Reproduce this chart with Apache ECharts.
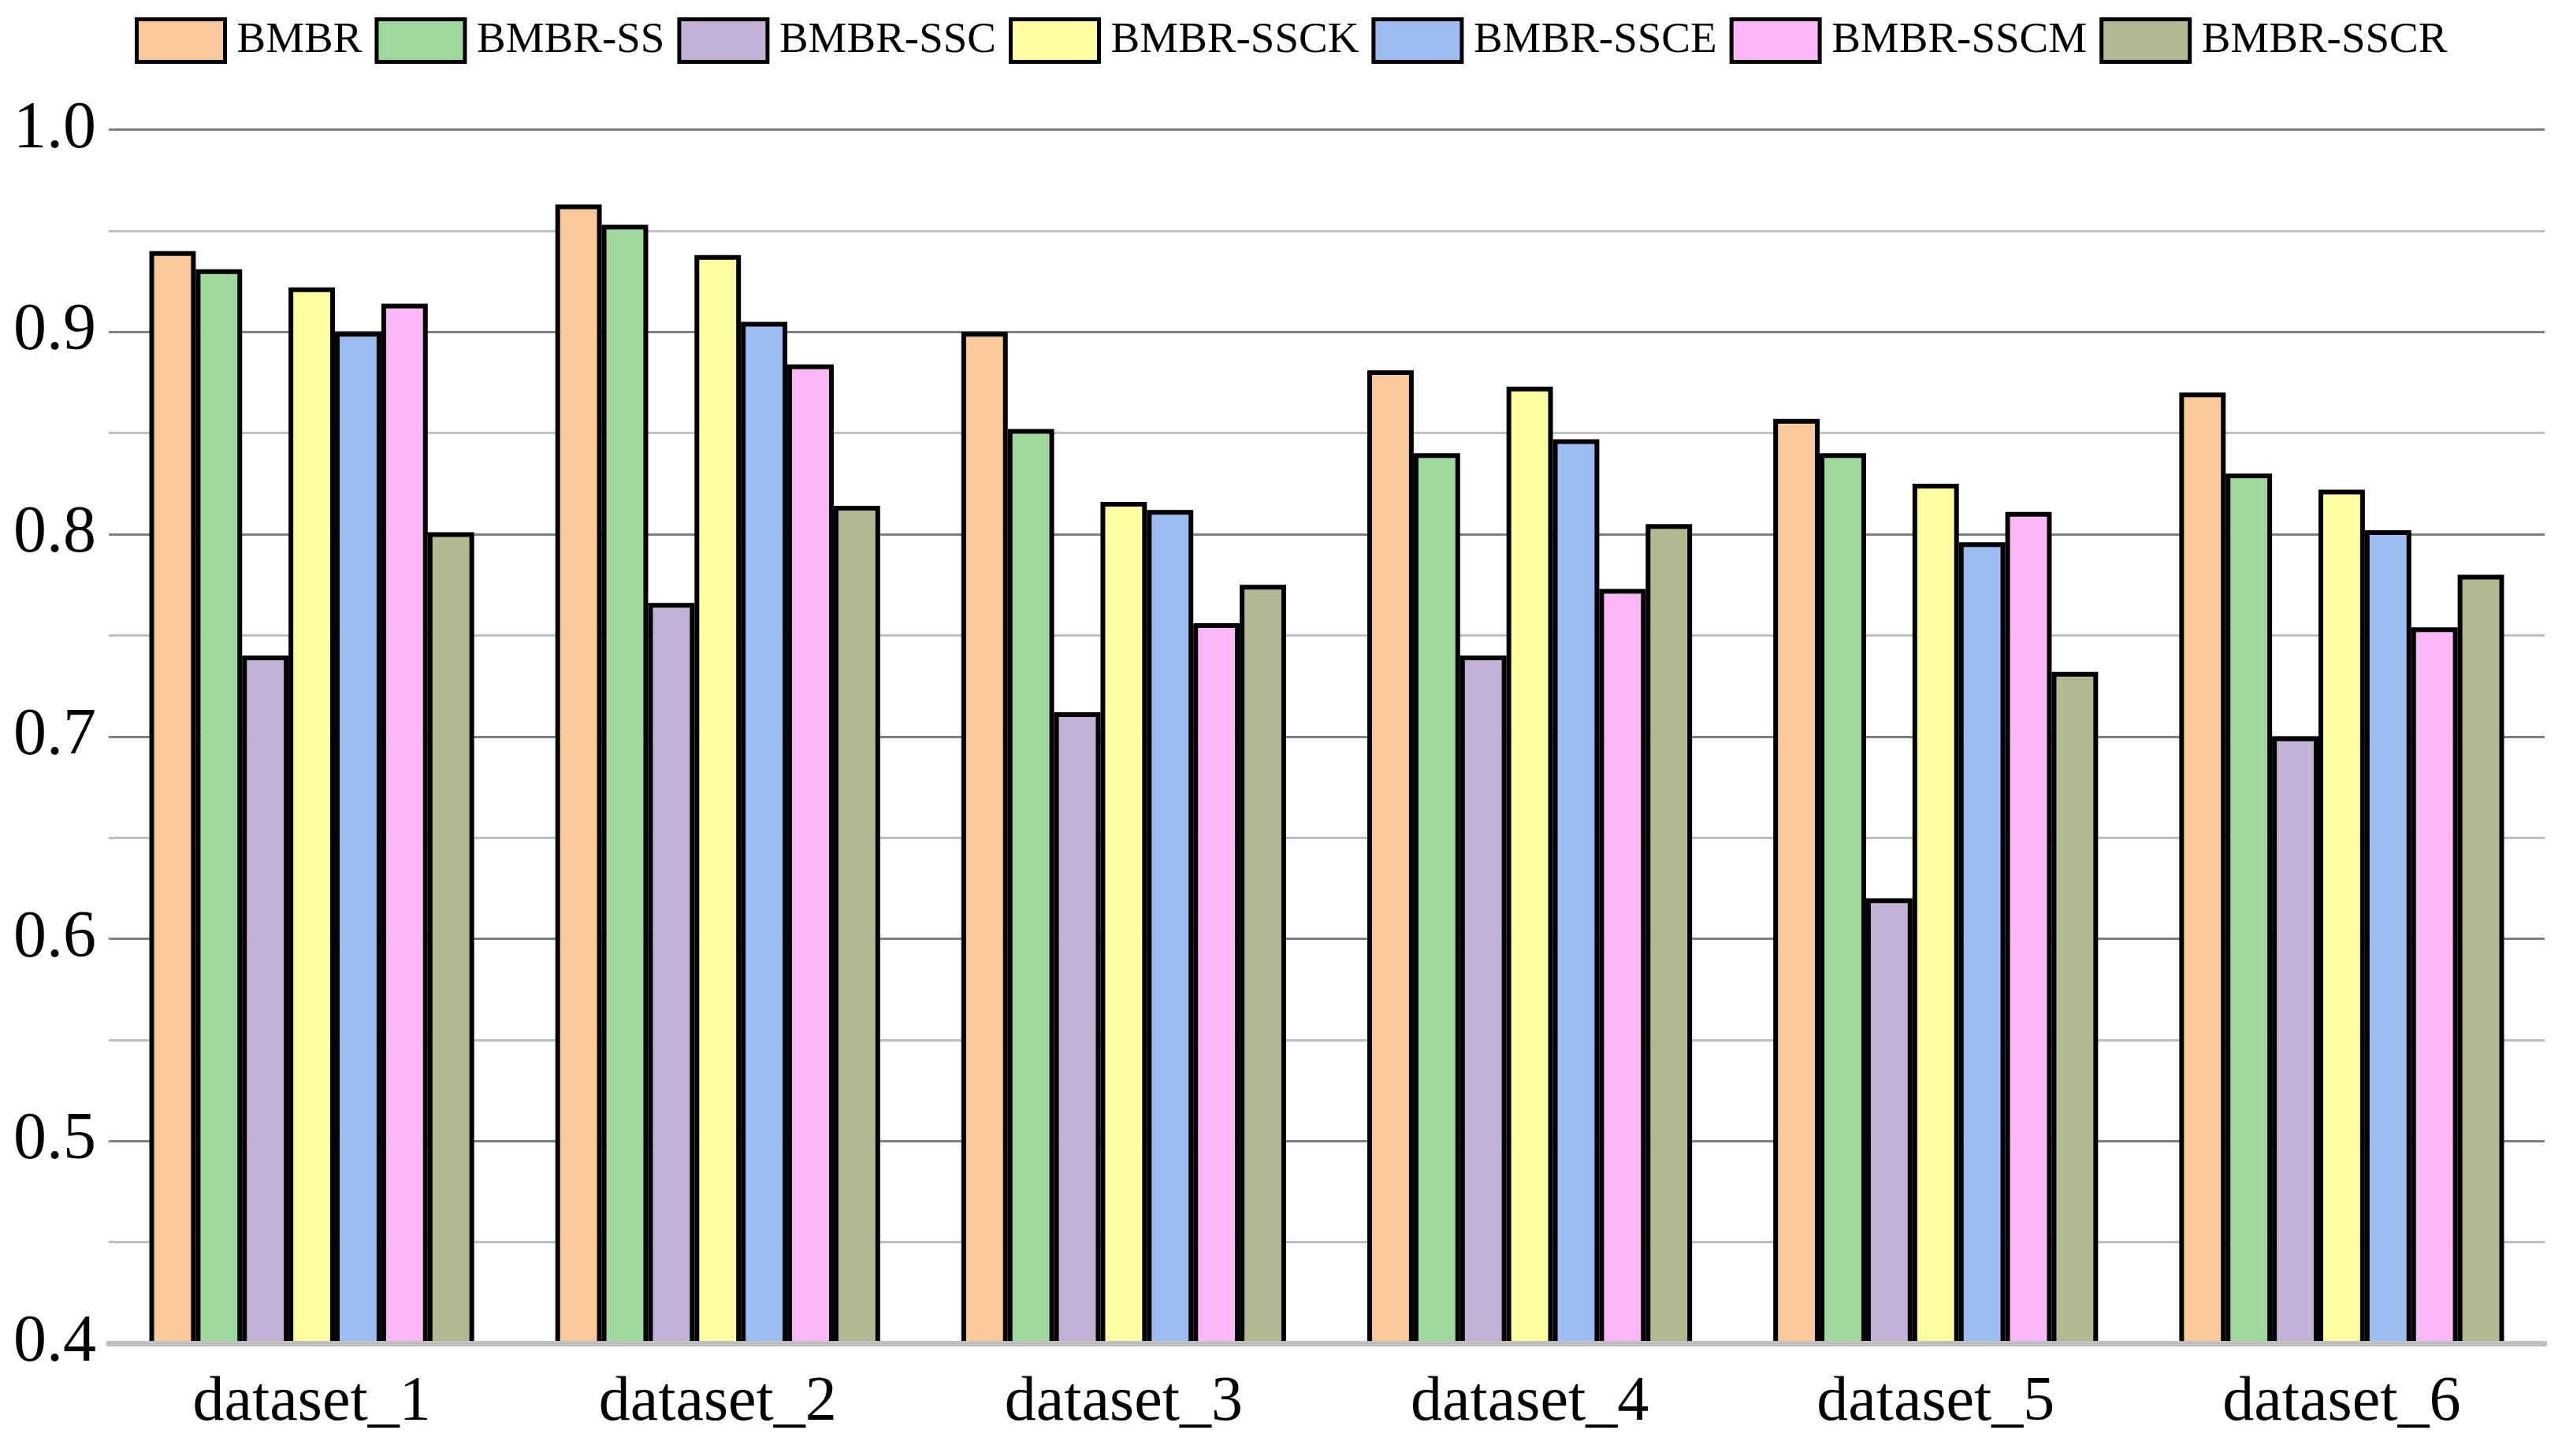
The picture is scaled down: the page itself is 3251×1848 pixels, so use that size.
<!DOCTYPE html>
<html>
<head>
<meta charset="utf-8">
<script src="https://cdn.jsdelivr.net/npm/echarts@6/dist/echarts.min.js"></script>
<style>
html,body{margin:0;padding:0;background:#fff;}
#chart{width:3251px;height:1848px;}
</style>
</head>
<body>
<div id="chart"></div>
<script>
const categories = ['dataset_1','dataset_2','dataset_3','dataset_4','dataset_5','dataset_6'];
const seriesNames = ['BMBR','BMBR-SS','BMBR-SSC','BMBR-SSCK','BMBR-SSCE','BMBR-SSCM','BMBR-SSCR'];
const BMBR      = [0.940, 0.963, 0.900, 0.881, 0.857, 0.870];
const BMBR_SS   = [0.931, 0.953, 0.852, 0.840, 0.840, 0.830];
const BMBR_SSC  = [0.740, 0.766, 0.712, 0.740, 0.620, 0.700];
const BMBR_SSCK = [0.922, 0.938, 0.816, 0.873, 0.825, 0.822];
const BMBR_SSCE = [0.900, 0.905, 0.812, 0.847, 0.796, 0.802];
const BMBR_SSCM = [0.914, 0.884, 0.756, 0.773, 0.811, 0.754];
const BMBR_SSCR = [0.801, 0.814, 0.775, 0.805, 0.732, 0.780];
const seriesValues = [BMBR, BMBR_SS, BMBR_SSC, BMBR_SSCK, BMBR_SSCE, BMBR_SSCM, BMBR_SSCR];
const colors = ['#FAC99A','#9FD89D','#C3B2D6','#FEFEA0','#9DBCF2','#FCB7F6','#B3B792'];
const yTicks = { min: 0.4, max: 1.0, interval: 0.05 };

const FONT = '"Times New Roman", "Liberation Serif", serif';
const chart = echarts.init(document.getElementById('chart'));
chart.setOption({
  backgroundColor: '#ffffff',
  animation: false,
  color: colors,
  legend: {
    top: 17,
    left: 166,
    itemWidth: 112,
    itemHeight: 54,
    itemGap: 16,
    icon: 'rect',
    itemStyle: { borderColor: '#000', borderWidth: 5 },
    textStyle: { fontFamily: FONT, fontSize: 55, color: '#000', padding: [0,0,0,10] },
    data: seriesNames
  },
  grid: { left: 138, right: 22, top: 164.6, bottom: 143, containLabel: false },
  xAxis: {
    type: 'category',
    data: categories,
    axisLine: { show: true, lineStyle: { color: '#c0c0c0', width: 7 } },
    axisTick: { show: false },
    axisLabel: { fontFamily: FONT, fontSize: 80, color: '#000', margin: 36 },
    z: 10
  },
  yAxis: {
    type: 'value',
    min: yTicks.min, max: yTicks.max, interval: yTicks.interval,
    axisLine: { show: false },
    axisTick: { show: false },
    axisLabel: {
      fontFamily: FONT, fontSize: 84, color: '#000', margin: 16,
      formatter: function (v) {
        const r = Math.round(v * 100);
        return r % 10 === 0 ? (r / 100).toFixed(1) : '';
      }
    },
    splitLine: { show: true, lineStyle: { color: ['#808080', '#c0c0c0'], width: 3 } }
  },
  series: seriesNames.map((name, i) => ({
    name: name,
    type: 'bar',
    data: seriesValues[i],
    barGap: '0%',
    barCategoryGap: '20%',
    itemStyle: { color: colors[i], borderColor: '#000', borderWidth: 6 }
  }))
});
</script>
</body>
</html>
